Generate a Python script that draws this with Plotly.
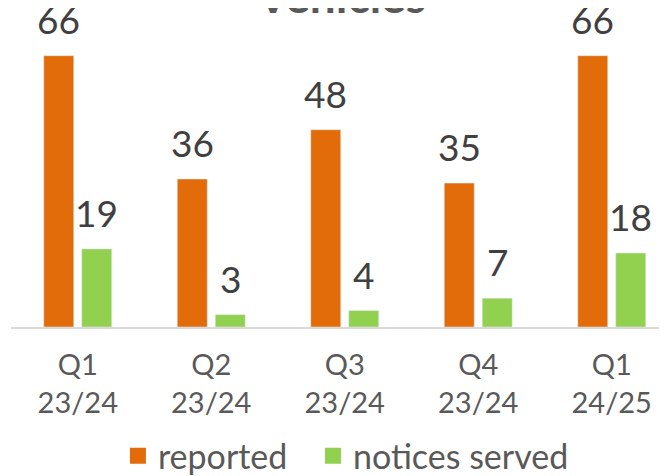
import plotly.graph_objects as go

categories = ["Q1<br>23/24", "Q2<br>23/24", "Q3<br>23/24", "Q4<br>23/24", "Q1<br>24/25"]
reported = [66, 36, 48, 35, 66]
notices_served = [19, 3, 4, 7, 18]
series_names = ["reported", "notices served"]
series_colors = ["#E36C0A", "#92D050"]

FONT = "Lato"
legend_ids = ["legend", "legend2"]
legend_x = [0.163, 0.4603]

fig = go.Figure()
for name, vals, col, lid in zip(series_names, [reported, notices_served], series_colors, legend_ids):
    fig.add_trace(go.Bar(x=categories, y=vals, name=name, marker_color=col,
                         showlegend=False, cliponaxis=False))
    # legend entry with a larger square swatch
    fig.add_trace(go.Scatter(x=[None], y=[None], mode="markers", name=name, legend=lid,
                             marker=dict(symbol="square", size=18, color=col)))

# data labels above bars
for j, vals in enumerate([reported, notices_served]):
    for c, v in zip(categories, vals):
        fig.add_annotation(x=c, y=v, text=str(v), showarrow=False, xref="x", yref="y",
                           yanchor="bottom", xanchor="center", xshift=(-19 if j == 0 else 19),
                           yshift=12, font=dict(size=37, color="#404040", family=FONT))

fig.add_annotation(text="<b>Vehicles</b>", xref="paper", yref="paper", x=0.503, y=1.0,
                   xanchor="center", yanchor="middle", yshift=13, showarrow=False,
                   font=dict(size=46, color="#595959", family=FONT))

legend_style = dict(orientation="h", xanchor="left", y=-0.405, yanchor="middle",
                    font=dict(size=34, color="#595959", family=FONT), itemwidth=30,
                    bgcolor="rgba(0,0,0,0)")

fig.update_layout(
    width=659, height=468,
    margin=dict(l=3, r=0, t=0, b=149, autoexpand=False),
    plot_bgcolor="white", paper_bgcolor="white",
    barmode="group", bargap=0.431, bargroupgap=0.21,
    font=dict(family=FONT, color="#595959"),
    legend=dict(x=legend_x[0], **legend_style),
    legend2=dict(x=legend_x[1], **legend_style),
    showlegend=True,
)
fig.update_xaxes(range=[-0.5, 4.414], showline=True, linecolor="#D9D9D9", linewidth=2, automargin=False,
                 tickfont=dict(size=29, color="#595959", family=FONT), ticks="", showgrid=False,
                 ticklabelstandoff=11)
fig.update_yaxes(range=[0, 77.6], visible=False, showgrid=False, automargin=False)

fig.write_html("out.html")
